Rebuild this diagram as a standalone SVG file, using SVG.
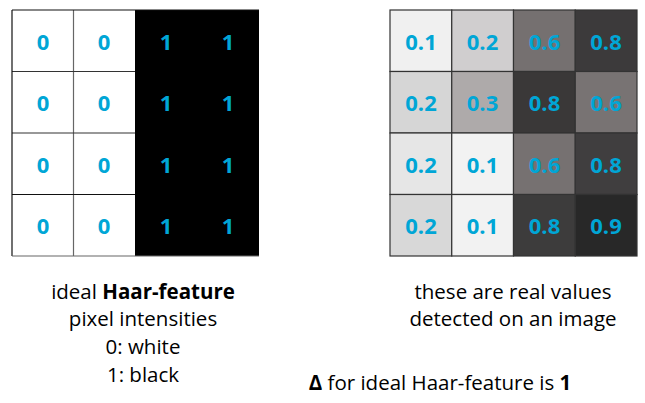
<svg xmlns="http://www.w3.org/2000/svg" width="645" height="403" viewBox="0 0 645 403">
<style>
.v{font-family:"Open Sans","Liberation Sans",sans-serif;font-weight:bold;font-size:22px;fill:#00A6D6;text-anchor:middle;dominant-baseline:central}
.t{font-family:"Open Sans","Liberation Sans",sans-serif;font-size:20.5px;fill:#000;text-anchor:middle}
.b{font-weight:bold}
.g{stroke:#333;stroke-width:1.2}
</style>
<rect width="645" height="403" fill="#fff"/>
<g id="ideal-grid">
<rect x="12" y="10" width="123" height="246" fill="#fff"/>
<rect x="135" y="10" width="124" height="246" fill="#000"/>
<g stroke="#666" stroke-width="1.2">
<line x1="73.5" y1="10" x2="73.5" y2="256"/>
<line x1="12" y1="71.5" x2="135" y2="71.5" stroke="#333"/>
<line x1="12" y1="133" x2="135" y2="133" stroke="#333"/>
<line x1="12" y1="194.5" x2="135" y2="194.5" stroke="#111"/>
<line x1="12" y1="10" x2="12" y2="256" stroke="#111"/>
<line x1="12" y1="10" x2="259" y2="10" stroke="#111"/>
<line x1="12" y1="256" x2="259" y2="256"/>
</g>
<text class="v" x="43" y="41">0</text><text class="v" x="104" y="41">0</text><text class="v" x="166" y="41">1</text><text class="v" x="228" y="41">1</text>
<text class="v" x="43" y="102">0</text><text class="v" x="104" y="102">0</text><text class="v" x="166" y="102">1</text><text class="v" x="228" y="102">1</text>
<text class="v" x="43" y="164">0</text><text class="v" x="104" y="164">0</text><text class="v" x="166" y="164">1</text><text class="v" x="228" y="164">1</text>
<text class="v" x="43" y="225">0</text><text class="v" x="104" y="225">0</text><text class="v" x="166" y="225">1</text><text class="v" x="228" y="225">1</text>
</g>
<g id="real-grid">
<rect class="g" x="390" y="10" width="61.75" height="61.5" fill="#f0f0f0"/>
<rect class="g" x="451.75" y="10" width="61.75" height="61.5" fill="#d0cecf"/>
<rect class="g" x="513.5" y="10" width="61.75" height="61.5" fill="#757070"/>
<rect class="g" x="575.25" y="10" width="61.75" height="61.5" fill="#3c3a3b"/>
<rect class="g" x="390" y="71.5" width="61.75" height="61.5" fill="#d6d6d6"/>
<rect class="g" x="451.75" y="71.5" width="61.75" height="61.5" fill="#aeaaaa"/>
<rect class="g" x="513.5" y="71.5" width="61.75" height="61.5" fill="#3a3838"/>
<rect class="g" x="575.25" y="71.5" width="61.75" height="61.5" fill="#787373"/>
<rect class="g" x="390" y="133" width="61.75" height="61.5" fill="#e6e6e6"/>
<rect class="g" x="451.75" y="133" width="61.75" height="61.5" fill="#f2f2f2"/>
<rect class="g" x="513.5" y="133" width="61.75" height="61.5" fill="#767171"/>
<rect class="g" x="575.25" y="133" width="61.75" height="61.5" fill="#403e3f"/>
<rect class="g" x="390" y="194.5" width="61.75" height="61.5" fill="#d8d8d8"/>
<rect class="g" x="451.75" y="194.5" width="61.75" height="61.5" fill="#f2f2f2"/>
<rect class="g" x="513.5" y="194.5" width="61.75" height="61.5" fill="#3d3c3c"/>
<rect class="g" x="575.25" y="194.5" width="61.75" height="61.5" fill="#282828"/>
<text class="v" x="421" y="41">0.1</text><text class="v" x="482.5" y="41">0.2</text><text class="v" x="544.5" y="41">0.6</text><text class="v" x="606" y="41">0.8</text>
<text class="v" x="421" y="102">0.2</text><text class="v" x="482.5" y="102">0.3</text><text class="v" x="544.5" y="102">0.8</text><text class="v" x="606" y="102">0.6</text>
<text class="v" x="421" y="164">0.2</text><text class="v" x="482.5" y="164">0.1</text><text class="v" x="544.5" y="164">0.6</text><text class="v" x="606" y="164">0.8</text>
<text class="v" x="421" y="225">0.2</text><text class="v" x="482.5" y="225">0.1</text><text class="v" x="544.5" y="225">0.8</text><text class="v" x="606" y="225">0.9</text>
</g>
<g id="captions">
<text class="t" x="143" y="299">ideal <tspan class="b">Haar-feature</tspan></text>
<text class="t" x="143" y="326">pixel intensities</text>
<text class="t" x="143" y="354">0: white</text>
<text class="t" x="143" y="382">1: black</text>
<text class="t" x="513" y="299">these are real values</text>
<text class="t" x="513" y="326">detected on an image</text>
<text class="t" x="440" y="390"><tspan class="b">Δ</tspan> for ideal Haar-feature is <tspan class="b">1</tspan></text>
</g>
</svg>
